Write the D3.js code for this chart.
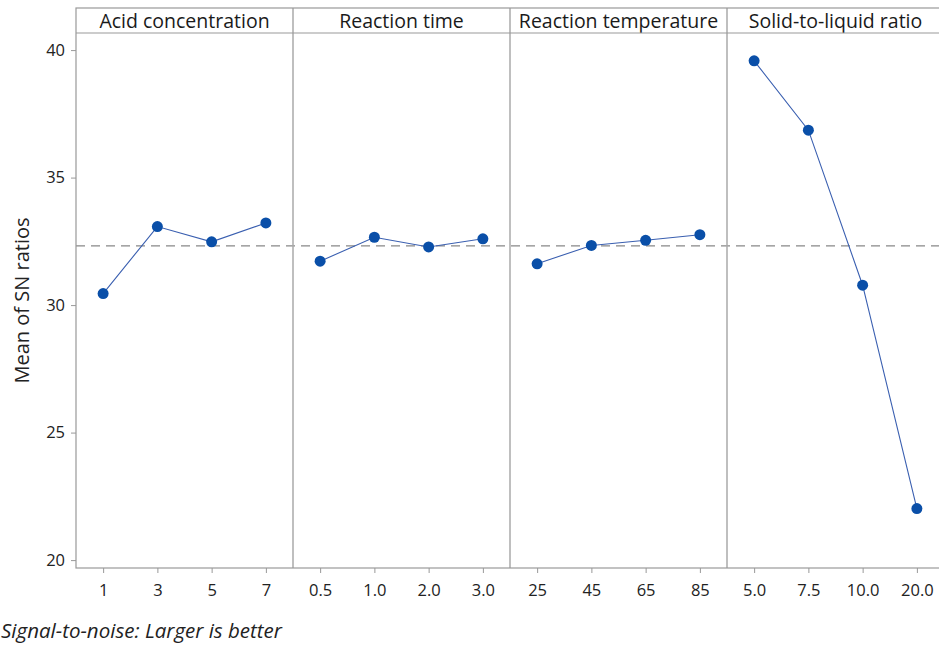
<!DOCTYPE html>
<html>
<head>
<meta charset="utf-8">
<script src="https://d3js.org/d3.v7.min.js"></script>
<style>
	body { margin: 0; padding: 0; background: #fff; }
	svg { display: block; font-family: "Open Sans", "Noto Sans", sans-serif; }
	.tick text { font-size: 16.5px; fill: #222; font-family: "Open Sans", "Noto Sans", sans-serif; }
	.tick line, .domain { stroke: #999; }
	.frame { fill: none; stroke: #999; stroke-width: 1.2; }
	.divider { stroke: #aaa; stroke-width: 1.5; }
	.title { font-size: 19.5px; fill: #1a1a1a; }
	.series { fill: none; stroke: #3a5fb0; stroke-width: 1.1; }
	.dot { fill: #0a4fa8; }
	.mean { stroke: #888; stroke-width: 1.2; stroke-dasharray: 9,6; }
</style>
</head>
<body>
<div id="chart"></div>
<script>
	var factors = ["Acid concentration", "Reaction time", "Reaction temperature", "Solid-to-liquid ratio"];
	var acidLevels = ["1", "3", "5", "7"];
	var timeLevels = ["0.5", "1.0", "2.0", "3.0"];
	var tempLevels = ["25", "45", "65", "85"];
	var ratioLevels = ["5.0", "7.5", "10.0", "20.0"];
	var acidSN = [30.45, 33.08, 32.48, 33.22];
	var timeSN = [31.72, 32.66, 32.28, 32.6];
	var tempSN = [31.62, 32.34, 32.54, 32.76];
	var ratioSN = [39.58, 36.86, 30.78, 22.02];
	var meanSN = 32.32;
	var yTicks = [20, 25, 30, 35, 40];

	var levels = [acidLevels, timeLevels, tempLevels, ratioLevels];
	var values = [acidSN, timeSN, tempSN, ratioSN];

	var W = 939, H = 648;
	var plotLeft = 76, plotTop = 8, headH = 25, plotBottom = 568, panelW = 217;

	var svg = d3.select("#chart").append("svg")
		.attr("width", W)
		.attr("height", H);

	var y = d3.scaleLinear()
		.domain([19.69, 40.67])
		.range([plotBottom, plotTop + headH]);

	svg.append("g")
		.attr("transform", "translate(" + plotLeft + ",0)")
		.call(d3.axisLeft(y).tickValues(yTicks).tickSize(5).tickPadding(6))
		.call(function(g) { g.select(".domain").remove(); });

	// mean line across all panels
	svg.append("line")
		.attr("class", "mean")
		.attr("x1", plotLeft)
		.attr("x2", plotLeft + panelW * 4)
		.attr("y1", y(meanSN))
		.attr("y2", y(meanSN));

	factors.forEach(function(f, i) {
		var x0 = plotLeft + i * panelW;
		var x = d3.scalePoint()
			.domain(levels[i])
			.range([x0, x0 + panelW])
			.padding(0.5);

		svg.append("g")
			.attr("transform", "translate(0," + plotBottom + ")")
			.call(d3.axisBottom(x).tickSize(5).tickPadding(11))
			.call(function(g) { g.select(".domain").remove(); });

		svg.append("text")
			.attr("class", "title")
			.attr("x", x0 + panelW / 2)
			.attr("y", plotTop + headH - 5)
			.attr("text-anchor", "middle")
			.text(f);

		var pts = values[i].map(function(v, k) { return [x(levels[i][k]), y(v)]; });

		svg.append("path")
			.attr("class", "series")
			.attr("d", d3.line()(pts));

		svg.selectAll(".dot" + i)
			.data(pts)
			.enter().append("circle")
			.attr("class", "dot")
			.attr("cx", function(d) { return d[0]; })
			.attr("cy", function(d) { return d[1]; })
			.attr("r", 5.5);

		if (i > 0) {
			svg.append("line")
				.attr("class", "divider")
				.attr("x1", x0).attr("x2", x0)
				.attr("y1", plotTop).attr("y2", plotBottom);
		}
	});

	// frame: header box and plot area
	svg.append("rect")
		.attr("class", "frame")
		.attr("x", plotLeft)
		.attr("y", plotTop)
		.attr("width", panelW * 4)
		.attr("height", plotBottom - plotTop);
	svg.append("line")
		.attr("class", "frame")
		.attr("x1", plotLeft).attr("x2", plotLeft + panelW * 4)
		.attr("y1", plotTop + headH).attr("y2", plotTop + headH);

	svg.append("text")
		.attr("transform", "translate(29," + ((plotTop + headH + plotBottom) / 2) + ") rotate(-90)")
		.attr("text-anchor", "middle")
		.style("font-size", "20px")
		.style("fill", "#222")
		.text("Mean of SN ratios");

	svg.append("text")
		.attr("x", 1)
		.attr("y", 638)
		.style("font-size", "20.5px")
		.style("font-style", "italic")
		.style("fill", "#222")
		.text("Signal-to-noise: Larger is better");
</script>
</body>
</html>
